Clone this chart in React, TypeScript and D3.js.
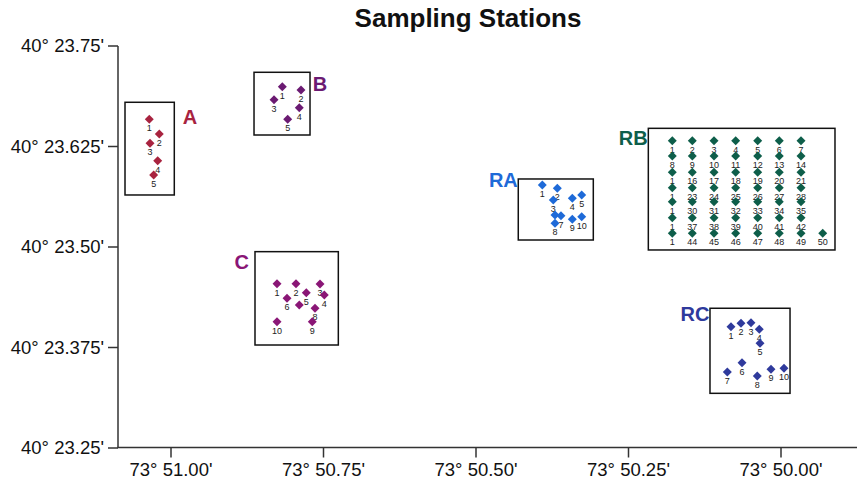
import React from "react";
import * as d3 from "d3";

// longitude in minutes west of 73°, latitude in minutes north of 40°
const xTicks = [51.0, 50.75, 50.5, 50.25, 50.0];
const xTickLabels = ["73° 51.00'", "73° 50.75'", "73° 50.50'", "73° 50.25'", "73° 50.00'"];
const yTicks = [23.75, 23.625, 23.5, 23.375, 23.25];
const yTickLabels = ["40° 23.75'", "40° 23.625'", "40° 23.50'", "40° 23.375'", "40° 23.25'"];

const groupNames = ["A", "B", "C", "RA", "RB", "RC"];
const groupColors = ["#a8233f", "#6b1a72", "#8a1676", "#1e6ad8", "#0e5e4a", "#2f3a9c"];

// box extents [lonWest, lonEast, latTop, latBottom]
const groupBoxes = [
  [51.0754, 50.9946, 23.68, 23.5647],
  [50.8639, 50.7721, 23.7173, 23.6393],
  [50.8623, 50.7257, 23.4942, 23.3781],
  [50.4307, 50.3077, 23.5846, 23.5087],
  [50.2175, 49.9115, 23.6476, 23.4963],
  [50.1164, 49.9852, 23.4238, 23.318],
];
const groupLabelLon = [50.9689, 50.7557, 50.8841, 50.4552, 50.2421, 50.141];
const groupLabelLat = [23.6621, 23.7036, 23.4817, 23.5833, 23.6352, 23.4175];

const aLon = [51.0356, 51.0192, 51.0344, 51.0218, 51.0284];
const aLat = [23.6588, 23.6405, 23.629, 23.6073, 23.5896];
const aIds = ["1", "2", "3", "4", "5"];

const bLon = [50.8175, 50.7869, 50.8311, 50.7897, 50.8087];
const bLat = [23.6994, 23.6953, 23.6832, 23.6733, 23.6588];
const bIds = ["1", "2", "3", "4", "5"];

const cLon = [50.8262, 50.7951, 50.7557, 50.7487, 50.7782, 50.8098, 50.7897, 50.7639, 50.7684, 50.8262];
const cLat = [23.4544, 23.4544, 23.454, 23.4403, 23.4432, 23.4362, 23.4279, 23.4238, 23.4071, 23.4071];
const cIds = ["1", "2", "3", "4", "5", "6", "", "8", "9", "10"];

const raLon = [50.3913, 50.3667, 50.3733, 50.3421, 50.3267, 50.3705, 50.3607, 50.3705, 50.3421, 50.3267];
const raLat = [23.5771, 23.573, 23.5585, 23.5606, 23.5647, 23.5398, 23.5389, 23.5295, 23.5345, 23.5377];
const raIds = ["1", "2", "3", "4", "5", "", "7", "8", "9", "10"];

const rbLon = [
  50.1782, 50.1454, 50.1098, 50.0743, 50.0382, 50.0028, 49.9672,
  50.1782, 50.1454, 50.1098, 50.0743, 50.0382, 50.0028, 49.9672,
  50.1782, 50.1454, 50.1098, 50.0743, 50.0382, 50.0028, 49.9672,
  50.1782, 50.1454, 50.1098, 50.0743, 50.0382, 50.0028, 49.9672,
  50.1782, 50.1454, 50.1098, 50.0743, 50.0382, 50.0028, 49.9672,
  50.1782, 50.1454, 50.1098, 50.0743, 50.0382, 50.0028, 49.9672,
  50.1782, 50.1454, 50.1098, 50.0743, 50.0382, 50.0028, 49.9672,
  49.9316,
];
const rbLat = [
  23.6322, 23.6322, 23.6322, 23.6322, 23.6322, 23.6322, 23.6322,
  23.6132, 23.6132, 23.6132, 23.6132, 23.6132, 23.6132, 23.6132,
  23.5929, 23.5929, 23.5929, 23.5929, 23.5929, 23.5929, 23.5929,
  23.5738, 23.5738, 23.5738, 23.5738, 23.5738, 23.5738, 23.5738,
  23.5563, 23.5563, 23.5563, 23.5563, 23.5563, 23.5563, 23.5563,
  23.5364, 23.5364, 23.5364, 23.5364, 23.5364, 23.5364, 23.5364,
  23.517, 23.517, 23.517, 23.517, 23.517, 23.517, 23.517,
  23.517,
];
const rbIds = [
  "1", "2", "3", "4", "5", "6", "7",
  "8", "9", "10", "11", "12", "13", "14",
  "1", "16", "17", "18", "19", "20", "21",
  "1", "23", "24", "25", "26", "27", "28",
  "1", "30", "31", "32", "33", "34", "35",
  "1", "37", "38", "39", "40", "41", "42",
  "1", "44", "45", "46", "47", "48", "49",
  "50",
];

const rcLon = [50.082, 50.0656, 50.0492, 50.0356, 50.0344, 50.0639, 50.088, 50.0389, 50.0164, 49.9951];
const rcLat = [23.4009, 23.4051, 23.4058, 23.3976, 23.3802, 23.3561, 23.3445, 23.3396, 23.3479, 23.3491];
const rcIds = ["1", "2", "3", "4", "5", "6", "7", "8", "9", "10"];

const groupLon = [aLon, bLon, cLon, raLon, rbLon, rcLon];
const groupLat = [aLat, bLat, cLat, raLat, rbLat, rcLat];
const groupIds = [aIds, bIds, cIds, raIds, rbIds, rcIds];

const width = 857;
const height = 483;
const font = "'Liberation Sans', Arial, Helvetica, sans-serif";

export default function App() {
  const x = d3.scaleLinear().domain([51.0, 50.0]).range([171, 781]);
  const y = d3.scaleLinear().domain([23.75, 23.25]).range([46, 448]);
  const plotLeft = 118;
  const plotBottom = 447.5;

  const diamond = d3.symbol().type(d3.symbolSquare).size(40)() as string;

  return (
    <svg
      width={width}
      height={height}
      style={{ position: "absolute", left: 0, top: 0, background: "#fff" }}
      fontFamily={font}
    >
      <text x={468} y={27} textAnchor="middle" fontSize={26} fontWeight="bold" fill="#111">
        Sampling Stations
      </text>

      {/* axes */}
      <line x1={plotLeft} x2={plotLeft} y1={y(23.75)} y2={plotBottom} stroke="#333" strokeWidth={1.5} />
      <line x1={plotLeft - 0.75} x2={width} y1={plotBottom} y2={plotBottom} stroke="#333" strokeWidth={1.5} />
      {yTicks.map((t, i) => (
        <g key={"y" + i}>
          <line x1={plotLeft - 10} x2={plotLeft} y1={y(t)} y2={y(t)} stroke="#333" strokeWidth={1.5} />
          <text x={plotLeft - 14} y={y(t)} dy="0.35em" textAnchor="end" fontSize={18.5} fill="#111">
            {yTickLabels[i]}
          </text>
        </g>
      ))}
      {xTicks.map((t, i) => (
        <g key={"x" + i}>
          <line x1={x(t)} x2={x(t)} y1={plotBottom} y2={plotBottom + 10} stroke="#333" strokeWidth={1.5} />
          <text x={x(t)} y={470} dy="0.35em" textAnchor="middle" fontSize={18.5} fill="#111">
            {xTickLabels[i]}
          </text>
        </g>
      ))}

      {/* station groups */}
      {groupNames.map((name, g) => {
        const [x0, x1, y0, y1] = groupBoxes[g];
        const lons = groupLon[g];
        const lats = groupLat[g];
        const ids = groupIds[g];
        return (
          <g key={name}>
            <rect
              x={x(x0)}
              y={y(y0)}
              width={x(x1) - x(x0)}
              height={y(y1) - y(y0)}
              fill="none"
              stroke="#111"
              strokeWidth={1.5}
            />
            <text
              x={x(groupLabelLon[g])}
              y={y(groupLabelLat[g])}
              dy="0.36em"
              textAnchor="middle"
              fontSize={20}
              fontWeight="bold"
              fill={groupColors[g]}
            >
              {name}
            </text>
            {lons.map((lon, i) => (
              <text
                key={"t" + i}
                x={x(lon)}
                y={y(lats[i]) + 9}
                dy="0.35em"
                textAnchor="middle"
                fontSize={9}
                fill="#222"
              >
                {ids[i]}
              </text>
            ))}
            {lons.map((lon, i) => (
              <path
                key={"p" + i}
                d={diamond}
                transform={`translate(${x(lon)},${y(lats[i])}) rotate(45)`}
                fill={groupColors[g]}
              />
            ))}
          </g>
        );
      })}
    </svg>
  );
}
